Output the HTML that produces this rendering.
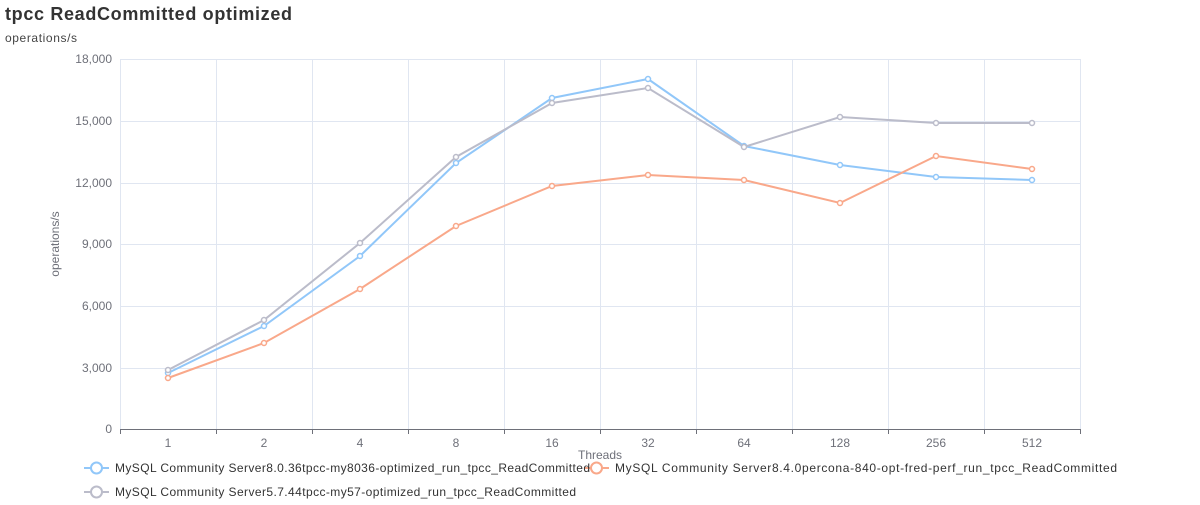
<!DOCTYPE html>
<html><head><meta charset="utf-8"><style>
body{margin:0;background:#fff;width:1200px;height:500px;overflow:hidden;font-family:"Liberation Sans","Noto Sans CJK SC",sans-serif}
</style></head><body>
<svg width="1200" height="500" xmlns="http://www.w3.org/2000/svg" font-family="Liberation Sans, sans-serif">
<text x="5" y="20" font-size="18" font-weight="bold" fill="#333" textLength="287">tpcc ReadCommitted optimized</text>
<text x="5" y="42" font-size="12" fill="#444" textLength="72">operations/s</text>
<g stroke="#e0e6f1" stroke-width="1">
<line x1="120" y1="59.5" x2="1080" y2="59.5"/><line x1="120" y1="121.5" x2="1080" y2="121.5"/>
<line x1="120" y1="183.5" x2="1080" y2="183.5"/><line x1="120" y1="244.5" x2="1080" y2="244.5"/>
<line x1="120" y1="306.5" x2="1080" y2="306.5"/><line x1="120" y1="368.5" x2="1080" y2="368.5"/>
<line x1="216.5" y1="59" x2="216.5" y2="429"/><line x1="312.5" y1="59" x2="312.5" y2="429"/>
<line x1="408.5" y1="59" x2="408.5" y2="429"/><line x1="504.5" y1="59" x2="504.5" y2="429"/>
<line x1="600.5" y1="59" x2="600.5" y2="429"/><line x1="696.5" y1="59" x2="696.5" y2="429"/>
<line x1="792.5" y1="59" x2="792.5" y2="429"/><line x1="888.5" y1="59" x2="888.5" y2="429"/>
<line x1="984.5" y1="59" x2="984.5" y2="429"/><line x1="1080.5" y1="59" x2="1080.5" y2="429"/>
<line x1="120.5" y1="59" x2="120.5" y2="429"/>
</g>
<line x1="120" y1="429.5" x2="1080" y2="429.5" stroke="#6e7079"/>
<g stroke="#6e7079">
<line x1="120.5" y1="429" x2="120.5" y2="434"/><line x1="216.5" y1="429" x2="216.5" y2="434"/><line x1="312.5" y1="429" x2="312.5" y2="434"/><line x1="408.5" y1="429" x2="408.5" y2="434"/><line x1="504.5" y1="429" x2="504.5" y2="434"/><line x1="600.5" y1="429" x2="600.5" y2="434"/><line x1="696.5" y1="429" x2="696.5" y2="434"/><line x1="792.5" y1="429" x2="792.5" y2="434"/><line x1="888.5" y1="429" x2="888.5" y2="434"/><line x1="984.5" y1="429" x2="984.5" y2="434"/><line x1="1080.5" y1="429" x2="1080.5" y2="434"/>
</g>
<g font-size="12" fill="#6e7079" text-anchor="end">
<text x="112" y="63">18,000</text><text x="112" y="125">15,000</text><text x="112" y="187">12,000</text>
<text x="112" y="248">9,000</text><text x="112" y="310">6,000</text><text x="112" y="372">3,000</text><text x="112" y="433">0</text>
</g>
<g font-size="12" fill="#6e7079" text-anchor="middle">
<text x="168" y="447">1</text><text x="264" y="447">2</text><text x="360" y="447">4</text><text x="456" y="447">8</text><text x="552" y="447">16</text>
<text x="648" y="447">32</text><text x="744" y="447">64</text><text x="840" y="447">128</text><text x="936" y="447">256</text><text x="1032" y="447">512</text>
<text x="600" y="459">Threads</text>
<text transform="translate(59,244) rotate(-90)">operations/s</text>
</g>
<g fill="none" stroke-width="2">
<polyline stroke="#91c7f9" points="168,373 264,326 360,256 456,163 552,98 648,79 744,146 840,165 936,177 1032,180"/>
<polyline stroke="#f9a88a" points="168,378 264,343 360,289 456,226 552,186 648,175 744,180 840,203 936,156 1032,169"/>
<polyline stroke="#bbbcca" points="168,370 264,320 360,243 456,157 552,103 648,88 744,147 840,117 936,123 1032,123"/>
</g>
<g fill="#fff" stroke-width="1.5">
<g stroke="#91c7f9"><circle cx="168" cy="373" r="2.5"/><circle cx="264" cy="326" r="2.5"/><circle cx="360" cy="256" r="2.5"/><circle cx="456" cy="163" r="2.5"/><circle cx="552" cy="98" r="2.5"/><circle cx="648" cy="79" r="2.5"/><circle cx="744" cy="146" r="2.5"/><circle cx="840" cy="165" r="2.5"/><circle cx="936" cy="177" r="2.5"/><circle cx="1032" cy="180" r="2.5"/></g>
<g stroke="#f9a88a"><circle cx="168" cy="378" r="2.5"/><circle cx="264" cy="343" r="2.5"/><circle cx="360" cy="289" r="2.5"/><circle cx="456" cy="226" r="2.5"/><circle cx="552" cy="186" r="2.5"/><circle cx="648" cy="175" r="2.5"/><circle cx="744" cy="180" r="2.5"/><circle cx="840" cy="203" r="2.5"/><circle cx="936" cy="156" r="2.5"/><circle cx="1032" cy="169" r="2.5"/></g>
<g stroke="#bbbcca"><circle cx="168" cy="370" r="2.5"/><circle cx="264" cy="320" r="2.5"/><circle cx="360" cy="243" r="2.5"/><circle cx="456" cy="157" r="2.5"/><circle cx="552" cy="103" r="2.5"/><circle cx="648" cy="88" r="2.5"/><circle cx="744" cy="147" r="2.5"/><circle cx="840" cy="117" r="2.5"/><circle cx="936" cy="123" r="2.5"/><circle cx="1032" cy="123" r="2.5"/></g>
</g>
<g stroke-width="2" fill="#fff">
<line x1="84" y1="468" x2="109" y2="468" stroke="#91c7f9"/><circle cx="96.5" cy="468" r="5.5" stroke="#91c7f9"/>
<line x1="584" y1="468" x2="609" y2="468" stroke="#f9a88a"/><circle cx="596.5" cy="468" r="5.5" stroke="#f9a88a"/>
<line x1="84" y1="492" x2="109" y2="492" stroke="#bbbcca"/><circle cx="96.5" cy="492" r="5.5" stroke="#bbbcca"/>
</g>
<g font-size="12" fill="#333">
<text x="115" y="472" textLength="475">MySQL Community Server8.0.36tpcc-my8036-optimized_run_tpcc_ReadCommitted</text>
<text x="615" y="472" textLength="502">MySQL Community Server8.4.0percona-840-opt-fred-perf_run_tpcc_ReadCommitted</text>
<text x="115" y="496" textLength="461">MySQL Community Server5.7.44tpcc-my57-optimized_run_tpcc_ReadCommitted</text>
</g>
</svg>
</body></html>
